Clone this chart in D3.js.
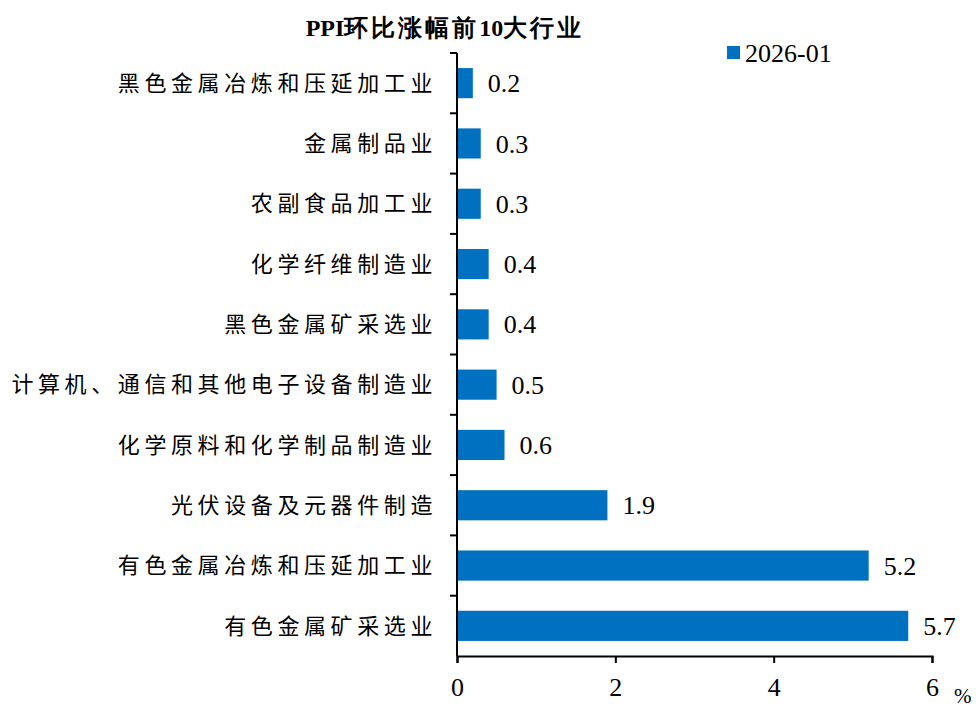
<!DOCTYPE html>
<html>
<head>
<meta charset="utf-8">
<script src="https://cdn.jsdelivr.net/npm/d3@7"></script>
<style>
  body { margin: 0; background: #fff; }
  svg { display: block; }
</style>
</head>
<body>
<div id="chart"></div>
<script>
var categories = ['黑色金属冶炼和压延加工业', '金属制品业', '农副食品加工业', '化学纤维制造业',
  '黑色金属矿采选业', '计算机、通信和其他电子设备制造业', '化学原料和化学制品制造业',
  '光伏设备及元器件制造', '有色金属冶炼和压延加工业', '有色金属矿采选业'];
var values = [0.2, 0.3, 0.3, 0.4, 0.4, 0.5, 0.6, 1.9, 5.2, 5.7];
var xTicks = [0, 2, 4, 6];
var seriesName = '2026-01';

var width = 976, height = 707;
var margin = {left: 457, right: 44, top: 53, bottom: 51};
var color = '#0070C0';
var serif = '"Liberation Serif", "Times New Roman", serif';
var cjk = '"Noto Sans CJK SC", sans-serif';

var svg = d3.select('#chart').append('svg')
  .attr('width', width)
  .attr('height', height);

var x = d3.scaleLinear()
  .domain([0, 6])
  .range([margin.left, width - margin.right]);

var y = d3.scaleBand()
  .domain(categories)
  .range([margin.top, height - margin.bottom])
  .paddingInner(0.5)
  .paddingOuter(0.25);

// bars
svg.selectAll('.bar')
  .data(values)
  .enter()
  .append('rect').attr('class', 'bar')
  .attr('x', x(0))
  .attr('y', function(d, i) { return y(categories[i]); })
  .attr('width', function(d) { return x(d) - x(0); })
  .attr('height', y.bandwidth())
  .style('fill', color);

// value labels
svg.selectAll('.val')
  .data(values)
  .enter()
  .append('text').attr('class', 'val')
  .attr('x', function(d) { return x(d) + 15; })
  .attr('y', function(d, i) { return y(categories[i]) + y.bandwidth() / 2; })
  .attr('dy', '0.35em')
  .style('font-family', serif)
  .style('font-size', '26px')
  .text(function(d) { return d.toFixed(1); });

// x axis
var xAxis = svg.append('g')
  .attr('transform', 'translate(0,' + (height - margin.bottom) + ')')
  .call(d3.axisBottom(x).tickValues(xTicks).tickSize(7).tickFormat(d3.format('d')));
xAxis.select('.domain').attr('stroke', '#000').attr('stroke-width', 2);
xAxis.selectAll('.tick line').attr('stroke', '#000').attr('stroke-width', 2);
xAxis.selectAll('.tick text')
  .attr('y', 22)
  .style('font-family', serif)
  .style('font-size', '26px')
  .attr('fill', '#000');

svg.append('text')
  .attr('x', x(6) + 22)
  .attr('y', height - margin.bottom + 47)
  .style('font-family', serif)
  .style('font-size', '21px')
  .text('%');

// y axis: line plus ticks between categories
var step = y.step();
var bounds = d3.range(categories.length + 1).map(function(i) {
  return margin.top + i * step;
});
svg.append('line')
  .attr('x1', x(0)).attr('x2', x(0))
  .attr('y1', margin.top).attr('y2', height - margin.bottom)
  .attr('stroke', '#000').attr('stroke-width', 2);
svg.selectAll('.ytick')
  .data(bounds.slice(0, -1))
  .enter()
  .append('line').attr('class', 'ytick')
  .attr('x1', x(0) - 7).attr('x2', x(0))
  .attr('y1', function(d) { return d; })
  .attr('y2', function(d) { return d; })
  .attr('stroke', '#000').attr('stroke-width', 2);

svg.selectAll('.cat')
  .data(categories)
  .enter()
  .append('text').attr('class', 'cat')
  .attr('x', x(0) - 20)
  .attr('y', function(d) { return y(d) + y.bandwidth() / 2; })
  .attr('dy', '0.35em')
  .attr('text-anchor', 'end')
  .style('font-family', cjk)
  .style('font-size', '22px')
  .style('letter-spacing', '4.6px')
  .text(function(d) { return d; });

// title, latin parts tight, CJK parts spaced
var title = svg.append('text')
  .attr('x', 445)
  .attr('y', 36)
  .attr('text-anchor', 'middle')
  .style('font-family', serif)
  .style('font-weight', 'bold')
  .style('font-size', '24px');
[['PPI', 0], ['环比涨幅前', 3], ['10', 0], ['大行业', 3]].forEach(function(p) {
  title.append('tspan').style('letter-spacing', p[1] + 'px').text(p[0]);
});

// legend
var legend = svg.append('g').attr('transform', 'translate(727,46)');
legend.append('rect')
  .attr('width', 13).attr('height', 13)
  .style('fill', color);
legend.append('text')
  .attr('x', 18).attr('y', 7)
  .attr('dy', '0.35em')
  .style('font-family', serif)
  .style('font-size', '26px')
  .text(seriesName);
</script>
</body>
</html>
